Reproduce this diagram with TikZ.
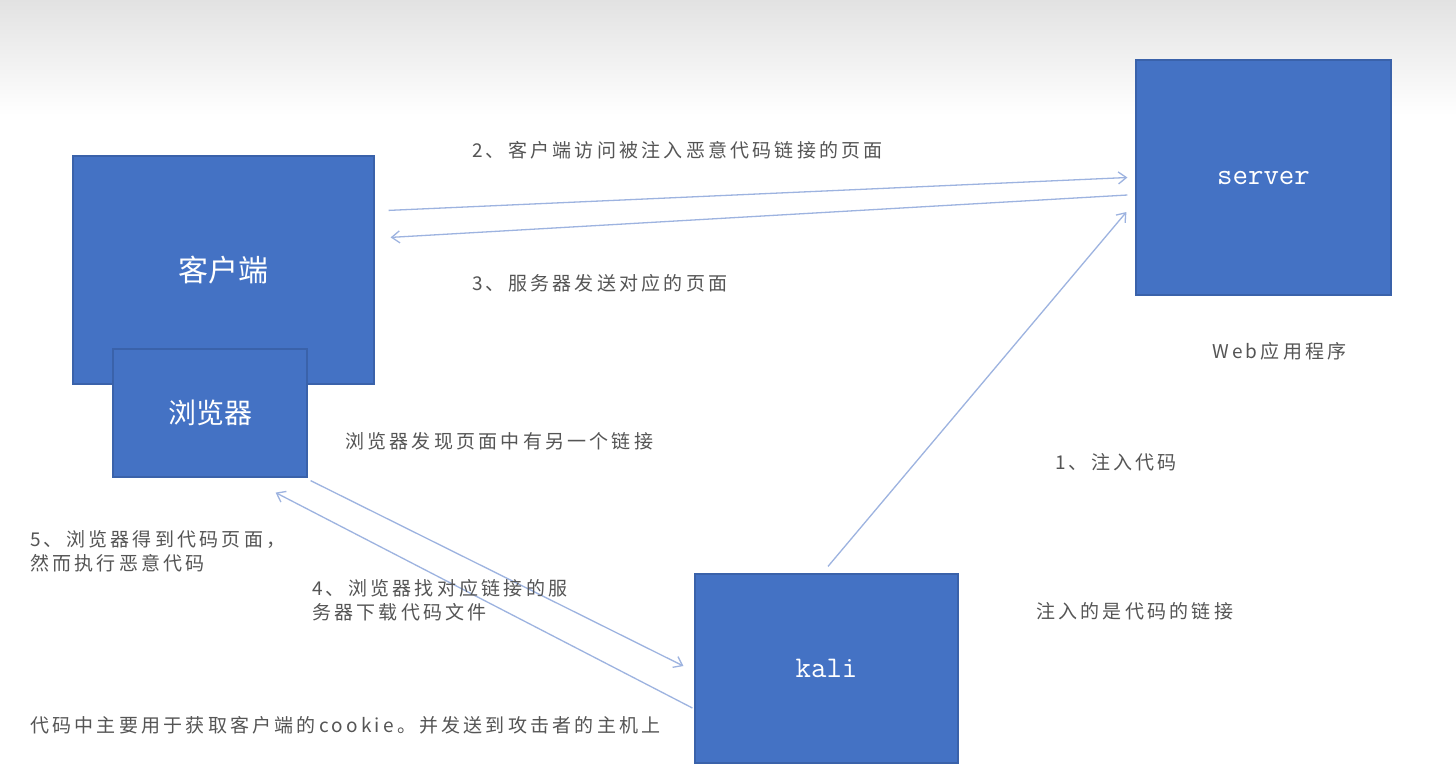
\documentclass[tikz,border=0pt]{standalone}
\usepackage{fontspec}
\newfontfamily\cjk[LetterSpace=17]{Noto Sans CJK SC}
\newfontfamily\cjkbox{Noto Sans CJK SC}
\usetikzlibrary{arrows.meta,calc}
\definecolor{boxblue}{HTML}{4472C4}
\definecolor{boxborder}{HTML}{3A62AA}
\definecolor{arrblue}{HTML}{9DB3E0}
\definecolor{txtgray}{HTML}{555555}
\definecolor{topgray}{HTML}{E2E2E2}
\tikzset{
  bluebox/.style={draw=boxborder, line width=1.2pt, fill=boxblue, inner sep=0pt, text=white},
  lbl/.style={anchor=west, text=txtgray, font=\cjk\fontsize{19}{24}\selectfont, inner sep=0pt, align=left},
  arr/.style={draw=arrblue, line width=1.3pt, -{Straight Barb[length=8pt,width=12pt]}}
}
\begin{document}
\begin{tikzpicture}[x=1pt,y=-1pt]
\useasboundingbox (0,0) rectangle (1456,777);
\fill[white] (0,0) rectangle (1456,777);
\shade[top color=topgray, bottom color=white] (0,0) rectangle (1456,115);

\node[bluebox, minimum width=301pt, minimum height=228pt, font=\cjkbox\fontsize{30}{30}\selectfont] (client) at (223.5,270) {客户端};
\node[bluebox, minimum width=194pt, minimum height=128pt, font=\cjkbox\fontsize{28}{28}\selectfont] (browser) at (210,413) {浏览器};
\node[bluebox, minimum width=255pt, minimum height=235pt, font=\ttfamily\fontsize{30}{30}\selectfont] (server) at (1263.5,177.5) {server};
\node[bluebox, minimum width=263pt, minimum height=189pt, font=\ttfamily\fontsize{30}{30}\selectfont] (kali) at (826.5,668.5) {kali};

\draw[arr] ($(client.north east)+(14,55)$) -- ($(server.west)+(-8,0)$);
\draw[arr] ($(server.west)+(-8,17.5)$) -- ($(client.north east)+(16,82)$);
\draw[arr] ($(kali.north)+(1.5,-7)$) -- ($(server.west)+(-9,34.5)$);
\draw[arr] ($(browser.south east)+(3,3)$) -- ($(kali.west)+(-11,-2.5)$);
\draw[arr] ($(kali.west)+(-2,39.5)$) -- ($(browser.south east)+(-32,15)$);

\node[lbl] (t2) at (472,150) {2、客户端访问被注入恶意代码链接的页面};
\node[lbl] (t3) at (472,283) {3、服务器发送对应的页面};
\node[lbl] (tweb) at (1212,351) {Web应用程序};
\node[lbl] (tfind) at (345,441) {浏览器发现页面中有另一个链接};
\node[lbl] (t1) at (1055,462) {1、注入代码};
\node[lbl] (t5) at (30,551) {5、浏览器得到代码页面，\\然而执行恶意代码};
\node[lbl] (t4) at (312,600) {4、浏览器找对应链接的服\\务器下载代码文件};
\node[lbl] (tinj) at (1036,611) {注入的是代码的链接};
\node[lbl] (tcookie) at (30,725) {代码中主要用于获取客户端的cookie。并发送到攻击者的主机上};
\end{tikzpicture}
\end{document}
